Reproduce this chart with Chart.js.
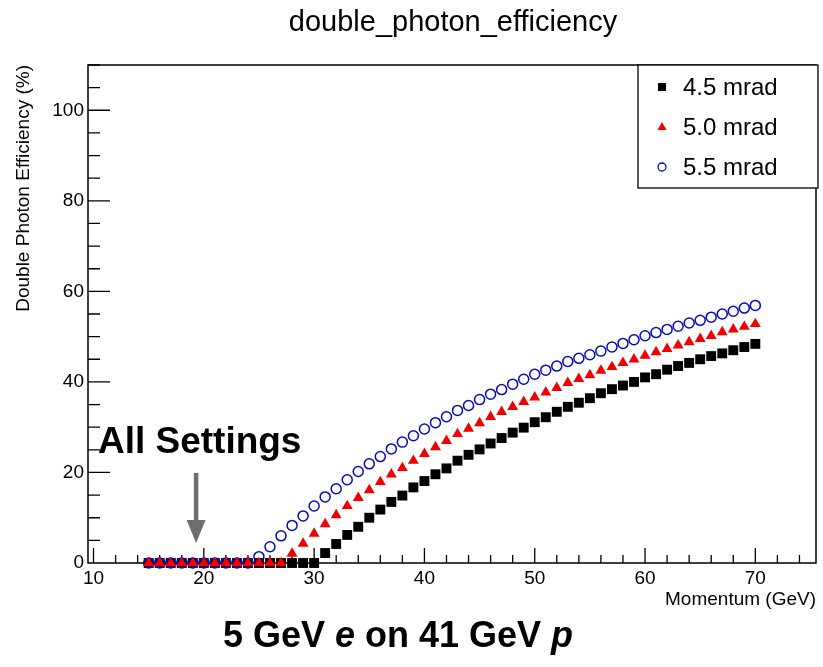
<!DOCTYPE html>
<html lang="en">
<head>
  <meta charset="UTF-8" />
  <title>double_photon_efficiency</title>
  <style>
    * { margin: 0; padding: 0; box-sizing: border-box; }
    body { background: #fff; width: 823px; height: 667px; overflow: hidden; }
    #wrap { position: relative; width: 823px; height: 667px; }
  </style>
</head>
<body>
  <div id="wrap"><canvas id="effChart" width="823" height="667"></canvas></div>

  <script src="https://cdn.jsdelivr.net/npm/chart.js@4"></script>
  <script>
    // momentum points (GeV)
    const momentum = [15, 16, 17, 18, 19, 20, 21, 22, 23, 24, 25, 26, 27, 28, 29, 30,
      31, 32, 33, 34, 35, 36, 37, 38, 39, 40, 41, 42, 43, 44, 45, 46, 47, 48, 49, 50,
      51, 52, 53, 54, 55, 56, 57, 58, 59, 60, 61, 62, 63, 64, 65, 66, 67, 68, 69, 70];

    // efficiency (%) per crossing angle
    const eff45 = [0, 0, 0, 0, 0, 0, 0, 0, 0, 0, 0, 0, 0, 0, 0, 0,
      2.2, 4.2, 6.2, 8.0, 10.0, 11.8, 13.5, 14.9, 16.7, 18.1, 19.6, 20.9, 22.6, 23.9, 25.1, 26.4, 27.6, 28.8, 29.9, 31.1,
      32.2, 33.4, 34.5, 35.4, 36.4, 37.5, 38.4, 39.2, 40.0, 41.0, 41.7, 42.7, 43.5, 44.2, 45.0, 45.7, 46.3, 47.0, 47.7, 48.4];
    const eff50 = [0, 0, 0, 0, 0, 0, 0, 0, 0, 0, 0, 0, 0, 2.1, 4.3, 6.5,
      8.6, 10.6, 12.6, 14.4, 16.1, 17.9, 19.6, 21.0, 22.6, 24.1, 25.6, 27.0, 28.5, 29.7, 30.9, 32.3, 33.4, 34.5, 35.6, 36.6,
      37.7, 38.7, 39.8, 40.7, 41.5, 42.5, 43.3, 44.2, 45.0, 45.8, 46.6, 47.3, 48.1, 48.8, 49.5, 50.2, 51.0, 51.6, 52.2, 52.8];
    const eff55 = [0, 0, 0, 0, 0, 0, 0, 0, 0, 0, 1.4, 3.6, 6.0, 8.3, 10.4, 12.6,
      14.6, 16.4, 18.4, 20.2, 21.9, 23.5, 25.2, 26.7, 28.1, 29.6, 31.0, 32.3, 33.7, 34.8, 36.1, 37.3, 38.3, 39.5, 40.6, 41.7,
      42.6, 43.5, 44.5, 45.2, 46.0, 46.8, 47.7, 48.5, 49.3, 50.2, 50.9, 51.6, 52.3, 53.0, 53.6, 54.3, 55.0, 55.6, 56.3, 56.9];

    const seriesLabels = ['4.5 mrad', '5.0 mrad', '5.5 mrad'];
    const xTicks = [10, 20, 30, 40, 50, 60, 70];
    const yTicks = [0, 20, 40, 60, 80, 100];

    const FONT = "'Liberation Sans', Arial, Helvetica, sans-serif";
    const BLUE = '#0a0ab4';
    const RED = '#f00000';

    function toPoints(vals) {
      return momentum.map((m, i) => ({ x: m, y: vals[i] }));
    }

    function legendMarker(ctx, style, color, x, y) {
      ctx.save();
      ctx.fillStyle = color;
      ctx.strokeStyle = color;
      if (style === 'rect') {
        ctx.fillRect(x - 4, y - 4, 8, 8);
      } else if (style === 'triangle') {
        ctx.beginPath();
        ctx.moveTo(x, y - 5);
        ctx.lineTo(x + 4.5, y + 3);
        ctx.lineTo(x - 4.5, y + 3);
        ctx.closePath();
        ctx.fill();
      } else {
        ctx.lineWidth = 1.3;
        ctx.beginPath();
        ctx.arc(x, y, 4, 0, Math.PI * 2);
        ctx.stroke();
      }
      ctx.restore();
    }

    // ROOT style frame with inward ticks, legend and labels
    const rootFrame = {
      id: 'rootFrame',
      beforeDatasetsDraw(chart) {
        const { ctx, chartArea: a, scales: { x, y } } = chart;
        ctx.save();
        ctx.strokeStyle = '#000';
        ctx.lineWidth = 1.5;
        ctx.strokeRect(a.left, a.top, a.right - a.left, a.bottom - a.top);

        ctx.lineWidth = 1.3;
        ctx.beginPath();
        for (let v = 10; v <= x.max; v += 2) {
          const px = x.getPixelForValue(v);
          const len = xTicks.includes(v) ? 15 : 8;
          ctx.moveTo(px, a.bottom);
          ctx.lineTo(px, a.bottom - len);
        }
        for (let v = 5; v <= y.max; v += 5) {
          const py = y.getPixelForValue(v);
          const len = yTicks.includes(v) ? 22 : 12;
          ctx.moveTo(a.left, py);
          ctx.lineTo(a.left + len, py);
        }
        ctx.stroke();
        ctx.restore();
      },
      afterDraw(chart) {
        const { ctx, chartArea: a, scales: { x, y } } = chart;
        ctx.save();

        // title
        ctx.font = '29px ' + FONT;
        ctx.fillStyle = '#000';
        ctx.textAlign = 'center';
        ctx.textBaseline = 'middle';
        ctx.fillText('double_photon_efficiency', 453, 23);
        ctx.textAlign = 'left';

        // legend box
        const lx = 638, ly = a.top, lw = 180, lh = 123;
        ctx.fillStyle = '#fff';
        ctx.fillRect(lx, ly, lw, lh);
        ctx.strokeStyle = '#000';
        ctx.lineWidth = 1.3;
        ctx.strokeRect(lx, ly, lw, lh);
        ctx.font = '24px ' + FONT;
        ctx.textBaseline = 'middle';
        chart.data.datasets.forEach((ds, i) => {
          const rowY = ly + 22 + i * 40;
          legendMarker(ctx, ds.pointStyle, ds.borderColor, lx + 24, rowY);
          ctx.fillStyle = '#000';
          ctx.fillText(ds.label, lx + 45, rowY + 1);
        });

        // annotation
        ctx.fillStyle = '#000';
        ctx.font = 'bold 37px ' + FONT;
        ctx.textBaseline = 'alphabetic';
        ctx.fillText('All Settings', x.getPixelForValue(10.4), y.getPixelForValue(24.2));

        const ax = x.getPixelForValue(19.3);
        const headTop = y.getPixelForValue(9.5);
        const tip = y.getPixelForValue(4.4);
        ctx.strokeStyle = '#6e6e6e';
        ctx.fillStyle = '#6e6e6e';
        ctx.lineWidth = 4.5;
        ctx.beginPath();
        ctx.moveTo(ax, y.getPixelForValue(19.9));
        ctx.lineTo(ax, headTop + 2);
        ctx.stroke();
        ctx.beginPath();
        ctx.moveTo(ax - 9.5, headTop);
        ctx.lineTo(ax + 9.5, headTop);
        ctx.lineTo(ax, tip);
        ctx.closePath();
        ctx.fill();

        // caption under the plot
        const parts = [
          ['5 GeV ', 'bold'], ['e', 'italic bold'], [' on 41 GeV ', 'bold'], ['p', 'italic bold']
        ];
        let total = 0;
        parts.forEach(p => { ctx.font = p[1] + ' 36px ' + FONT; total += ctx.measureText(p[0]).width; });
        let cx = 398 - total / 2;
        ctx.fillStyle = '#000';
        parts.forEach(p => {
          ctx.font = p[1] + ' 36px ' + FONT;
          ctx.fillText(p[0], cx, 647);
          cx += ctx.measureText(p[0]).width;
        });
        ctx.restore();
      }
    };

    const ctx = document.getElementById('effChart').getContext('2d');
    new Chart(ctx, {
      type: 'scatter',
      data: {
        datasets: [
          {
            label: seriesLabels[0],
            data: toPoints(eff45),
            pointStyle: 'rect',
            pointRadius: 7,
            borderWidth: 0,
            backgroundColor: '#000',
            borderColor: '#000',
            order: 3
          },
          {
            label: seriesLabels[1],
            data: toPoints(eff50),
            pointStyle: 'triangle',
            pointRadius: 6.3,
            borderWidth: 0,
            backgroundColor: RED,
            borderColor: RED,
            order: 1
          },
          {
            label: seriesLabels[2],
            data: toPoints(eff55),
            pointStyle: 'circle',
            pointRadius: 5,
            borderWidth: 1.5,
            backgroundColor: 'rgba(0,0,0,0)',
            borderColor: BLUE,
            order: 2
          }
        ]
      },
      options: {
        responsive: false,
        animation: false,
        clip: false,
        layout: { padding: { left: 0, right: 2, top: 65, bottom: 54 } },
        scales: {
          x: {
            type: 'linear',
            min: 9.5,
            max: 75.5,
            afterBuildTicks(scale) { scale.ticks = xTicks.map(v => ({ value: v })); },
            afterFit(scale) { scale.height = 50; },
            grid: { display: false, drawTicks: false },
            border: { display: false },
            ticks: { padding: 4, color: '#000', font: { family: FONT, size: 19 } },
            title: {
              display: true,
              text: 'Momentum (GeV)',
              align: 'end',
              color: '#000',
              font: { family: FONT, size: 19 },
              padding: { top: 0, bottom: 1.6 }
            }
          },
          y: {
            type: 'linear',
            min: 0,
            max: 110,
            afterBuildTicks(scale) { scale.ticks = yTicks.map(v => ({ value: v })); },
            afterFit(scale) { scale.width = 88; },
            grid: { display: false, drawTicks: false },
            border: { display: false },
            ticks: { padding: 4, color: '#000', font: { family: FONT, size: 19 } },
            title: {
              display: true,
              text: 'Double Photon Efficiency (%)',
              align: 'end',
              color: '#000',
              font: { family: FONT, size: 19 },
              padding: { top: 12, bottom: 0 }
            }
          }
        },
        plugins: {
          legend: { display: false },
          tooltip: { enabled: false },
          title: { display: false }
        }
      },
      plugins: [rootFrame]
    });
  </script>
</body>
</html>
